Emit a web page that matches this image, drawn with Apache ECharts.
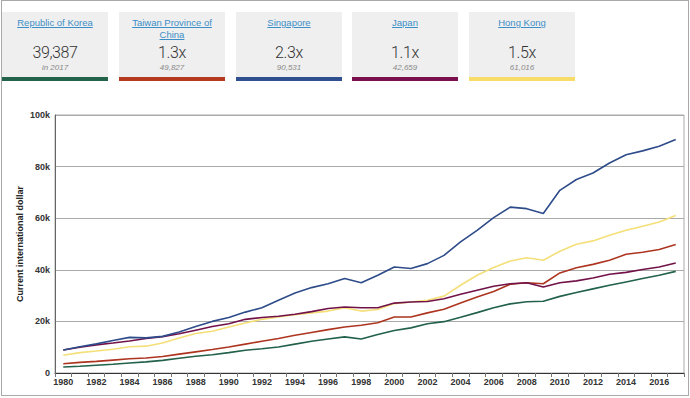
<!DOCTYPE html>
<html>
<head>
<meta charset="utf-8">
<script src="https://cdn.jsdelivr.net/npm/echarts@6/dist/echarts.min.js"></script>
<style>
  html, body { margin:0; padding:0; background:#fff; }
  body { width:690px; height:398px; position:relative; overflow:hidden; font-family:"Liberation Sans", Arial, sans-serif; }
  #frame { position:absolute; left:1px; top:0; width:686px; height:394px; border:1px solid #a8a8a8; }
  #chart { position:absolute; left:0; top:0; width:690px; height:398px; }
  .card { position:absolute; top:12px; width:106px; height:65px; background:#efefef; text-align:center; }
  .card .bar { position:absolute; left:0; bottom:-4px; width:100%; height:4px; }
  .card .t { position:absolute; left:4px; right:4px; top:5px; font-size:9.5px; line-height:11.6px; color:#3d8ec6; text-decoration:underline; }
  .card .v { position:absolute; left:0; right:0; top:31px; font-family:Roboto, sans-serif; font-weight:300; font-size:16px; line-height:20px; color:#333; letter-spacing:-0.4px; }
  .card .s { position:absolute; left:0; right:0; top:51px; font-size:8px; line-height:10px; font-style:italic; color:#8a8a8a; }
</style>
</head>
<body>
<div id="frame"></div>
<div id="chart"></div>
<div id="cards"></div>
<script>
// ---- data ----
const years = [];
for (let y = 1980; y <= 2017; y++) years.push(String(y));

const seriesNames = ["Republic of Korea", "Taiwan Province of China", "Singapore", "Japan", "Hong Kong"];
const seriesColors = ["#22614a", "#ad3520", "#2e4b8a", "#711249", "#f4df78"];
const barColors = ["#22634a", "#b53a1e", "#2f4f91", "#7a104f", "#f8dc6a"];

const korea = [2.3, 2.6, 3.0, 3.4, 3.9, 4.3, 4.9, 5.7, 6.5, 7.1, 7.9, 8.8, 9.4, 10.1, 11.2, 12.3, 13.2, 14.0, 13.2, 14.9,
  16.5, 17.5, 19.1, 19.9, 21.6, 23.4, 25.3, 26.8, 27.6, 27.8, 29.7, 31.2, 32.6, 34.0, 35.3, 36.6, 37.9, 39.387];
const taiwan = [3.6, 4.1, 4.5, 5.0, 5.5, 5.8, 6.4, 7.3, 8.2, 9.1, 10.1, 11.2, 12.3, 13.4, 14.6, 15.7, 16.8, 17.8, 18.5, 19.5,
  21.7, 21.7, 23.3, 24.7, 27.1, 29.5, 31.6, 34.4, 35.0, 34.6, 38.8, 40.8, 42.1, 43.7, 46.0, 46.8, 47.9, 49.827];
const singapore = [8.9, 10.2, 11.3, 12.6, 13.8, 13.6, 14.2, 15.9, 18.0, 20.0, 21.5, 23.6, 25.3, 28.2, 31.0, 33.1, 34.6, 36.6, 35.0, 37.9,
  41.1, 40.5, 42.4, 45.6, 50.8, 55.3, 60.2, 64.3, 63.7, 61.8, 70.8, 75.0, 77.5, 81.4, 84.6, 86.1, 87.9, 90.531];
const japan = [8.9, 10.0, 10.9, 11.6, 12.4, 13.4, 14.1, 15.2, 16.6, 18.0, 19.1, 20.8, 21.5, 22.0, 22.8, 23.8, 25.0, 25.6, 25.3, 25.3,
  27.1, 27.5, 27.7, 28.8, 30.5, 32.1, 33.6, 34.6, 35.0, 33.3, 35.0, 35.7, 36.8, 38.3, 39.0, 40.1, 41.1, 42.659];
const hongkong = [6.9, 7.9, 8.5, 9.2, 10.2, 10.4, 11.6, 13.6, 15.3, 16.2, 17.8, 19.4, 20.8, 21.7, 22.6, 23.3, 24.0, 25.3, 24.0, 24.6,
  26.9, 27.5, 28.2, 29.8, 34.0, 37.9, 40.9, 43.4, 44.7, 43.7, 47.2, 49.9, 51.2, 53.4, 55.3, 56.9, 58.5, 61.016];

const cardBig = ["39,387", "1.3x", "2.3x", "1.1x", "1.5x"];
const cardSmall = ["in 2017", "49,827", "90,531", "42,659", "61,016"];
const cardLeft = [2, 119, 236, 352, 469];

const yTicksK = [0, 20, 40, 60, 80, 100];

// ---- cards ----
const cards = document.getElementById('cards');
seriesNames.forEach((n, i) => {
  const d = document.createElement('div');
  d.className = 'card';
  d.style.left = cardLeft[i] + 'px';
  d.innerHTML = '<div class="t">' + n + '</div><div class="v">' + cardBig[i] + '</div><div class="s">' + cardSmall[i] + '</div><div class="bar" style="background:' + barColors[i] + '"></div>';
  cards.appendChild(d);
});

// ---- chart ----
const allData = [korea, taiwan, singapore, japan, hongkong];
const chart = echarts.init(document.getElementById('chart'), null, { renderer: 'svg' });
const axisFont = { fontFamily: 'Liberation Sans', fontWeight: 'bold', fontSize: 9, color: '#333' };
chart.setOption({
  animation: false,
  grid: { left: 55, right: 6, top: 115, bottom: 25, show: true, borderColor: '#aaa', borderWidth: 1 },
  xAxis: {
    type: 'category', data: years, boundaryGap: true,
    axisLine: { lineStyle: { color: '#333', width: 1 } },
    axisTick: { show: true, interval: 0, length: 4, lineStyle: { color: '#777' } },
    axisLabel: Object.assign({ interval: 1, margin: 4 }, axisFont),
    splitLine: { show: false }
  },
  yAxis: {
    type: 'value', min: yTicksK[0] * 1000, max: yTicksK[yTicksK.length - 1] * 1000, interval: 20000,
    name: 'Current international dollar', nameLocation: 'middle', nameGap: 31, nameMoveOverlap: false,
    nameTextStyle: { fontFamily: 'Liberation Sans', fontWeight: 'bold', fontSize: 9, color: '#222' },
    axisLine: { show: true, lineStyle: { color: '#666', width: 1 } },
    axisTick: { show: false },
    axisLabel: Object.assign({ margin: 5, formatter: v => v === 0 ? '0' : (v / 1000) + 'k' }, axisFont),
    splitLine: { lineStyle: { color: '#aaa', width: 1 } }
  },
  series: seriesNames.map((n, i) => ({
    name: n, type: 'line', showSymbol: false, symbol: 'none',
    data: allData[i].map(v => v * 1000),
    lineStyle: { color: seriesColors[i], width: 1.6 },
    itemStyle: { color: seriesColors[i] },
    z: [2, 3, 5, 4, 1][i]
  }))
});
</script>
</body>
</html>
